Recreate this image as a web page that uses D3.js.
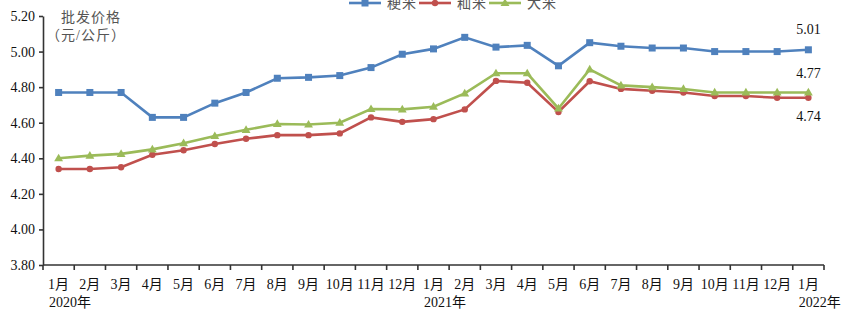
<!DOCTYPE html>
<html><head><meta charset="utf-8">
<script src="https://cdn.jsdelivr.net/npm/d3@7/dist/d3.min.js"></script>
<style>body{margin:0;background:#fff} svg{display:block}</style>
</head><body><svg id="c" width="847" height="325"></svg>
<script>
const months = ["1月","2月","3月","4月","5月","6月","7月","8月","9月","10月","11月","12月",
                "1月","2月","3月","4月","5月","6月","7月","8月","9月","10月","11月","12月","1月"];
const yearLabels = ["2020年","2021年","2022年"];
const yearIndex = [0,12,24];
const seriesNames = ["粳米","籼米","大米"];
const japonica = [4.77,4.77,4.77,4.63,4.63,4.71,4.77,4.85,4.855,4.865,4.91,4.985,5.015,5.08,5.025,5.035,4.92,5.05,5.03,5.02,5.02,5.00,5.00,5.00,5.01];
const indica   = [4.34,4.34,4.35,4.42,4.445,4.48,4.51,4.53,4.53,4.54,4.63,4.605,4.62,4.675,4.835,4.825,4.66,4.833,4.79,4.78,4.77,4.75,4.75,4.74,4.74];
const rice     = [4.40,4.415,4.425,4.45,4.485,4.525,4.56,4.593,4.59,4.60,4.677,4.675,4.69,4.765,4.878,4.878,4.68,4.90,4.81,4.80,4.79,4.77,4.77,4.77,4.77];
const yTicks = [3.8,4.0,4.2,4.4,4.6,4.8,5.0,5.2];
const yTitle = ["批发价格","（元/公斤）"];
const endLabels = ["5.01","4.77","4.74"];

const colors = ["#4f81bd","#c0504d","#9bbb59"];
const FONT = "'Liberation Serif','Times New Roman','Noto Sans CJK SC',serif";
const svg = d3.select("#c");
const x = d3.scaleBand().domain(d3.range(months.length)).range([43,824]).padding(0);
const y = d3.scaleLinear().domain([3.8,5.2]).range([265,16]);
const bw = x.bandwidth();
const cx = i => x(i) + bw/2;

// Y axis
const ya = svg.append("g").attr("transform","translate(43,0)")
  .call(d3.axisLeft(y).tickValues(yTicks).tickFormat(d3.format(".2f")).tickSize(4).tickSizeOuter(0).tickPadding(4));
ya.select(".domain").attr("stroke","#333").attr("stroke-width",1.6);
ya.selectAll(".tick line").attr("stroke","#333").attr("stroke-width",1.6);
ya.selectAll("text").attr("font-family",FONT).attr("font-size",14).attr("fill","#111");

// X axis
const xa = svg.append("g");
xa.append("line").attr("x1",x(0)).attr("x2",x(months.length-1)+bw).attr("y1",265).attr("y2",265)
  .attr("stroke","#333").attr("stroke-width",1.6);
const bounds = d3.range(months.length+1).map(i => i < months.length ? x(i) : x(months.length-1)+bw);
xa.selectAll("line.t").data(bounds).join("line").attr("class","t")
  .attr("x1",d=>d).attr("x2",d=>d).attr("y1",265).attr("y2",270).attr("stroke","#333").attr("stroke-width",1.6);
xa.selectAll("text.m").data(months).join("text").attr("class","m")
  .attr("x",(d,i)=>cx(i)).attr("y",289).attr("text-anchor","middle")
  .attr("font-family",FONT).attr("font-size",14).attr("fill","#111").text(d=>d);
xa.selectAll("text.yr").data(yearLabels).join("text").attr("class","yr")
  .attr("x",(d,i)=>x(yearIndex[i])+6).attr("y",307)
  .attr("font-family",FONT).attr("font-size",14).attr("fill","#111").text(d=>d);

// Y title
svg.selectAll("text.yt").data(yTitle).join("text").attr("class","yt")
  .attr("x",(d,i)=> i===0 ? 91 : 86).attr("y",(d,i)=>17+i*18).attr("dominant-baseline","central")
  .attr("text-anchor","middle").attr("font-family",FONT).attr("font-size",14).attr("fill","#555")
  .attr("letter-spacing",1).text(d=>d);

// Series
const data = [japonica, indica, rice];
const line = d3.line().x((d,i)=>cx(i)).y(d=>y(d));
data.forEach((s,k)=>{
  svg.append("path").datum(s).attr("d",line).attr("fill","none").attr("stroke",colors[k]).attr("stroke-width",2.6);
});
function marker(g, k, px, py){
  if(k===0) g.append("rect").attr("x",px-3.5).attr("y",py-3.5).attr("width",7).attr("height",7).attr("fill",colors[k]);
  else if(k===1) g.append("circle").attr("cx",px).attr("cy",py).attr("r",3.2).attr("fill",colors[k]);
  else g.append("path").attr("d",d3.symbol(d3.symbolTriangle,34)()).attr("transform",`translate(${px},${py+0.5})`).attr("fill",colors[k]);
}
const mg = svg.append("g");
data.forEach((s,k)=> s.forEach((v,i)=> marker(mg,k,cx(i),y(v))));

// End labels
const last = months.length-1;
const endY = [y(japonica[last])-20, y(rice[last])-19, y(indica[last])+19];
svg.selectAll("text.el").data(endLabels).join("text").attr("class","el")
  .attr("x",cx(last)).attr("y",(d,i)=>endY[i]).attr("text-anchor","middle").attr("dominant-baseline","central")
  .attr("font-family",FONT).attr("font-size",14).attr("fill","#111").text(d=>d);

// Legend
const lx = [349,419,489];
const lg = svg.append("g");
seriesNames.forEach((n,k)=>{
  lg.append("line").attr("x1",lx[k]).attr("x2",lx[k]+32).attr("y1",3).attr("y2",3).attr("stroke",colors[k]).attr("stroke-width",2.6);
  marker(lg,k,lx[k]+16,3);
  lg.append("text").attr("x",lx[k]+38).attr("y",3).attr("dominant-baseline","central")
    .attr("font-family",FONT).attr("font-size",14).attr("fill","#555").attr("letter-spacing",1).text(n);
});
</script></body></html>
